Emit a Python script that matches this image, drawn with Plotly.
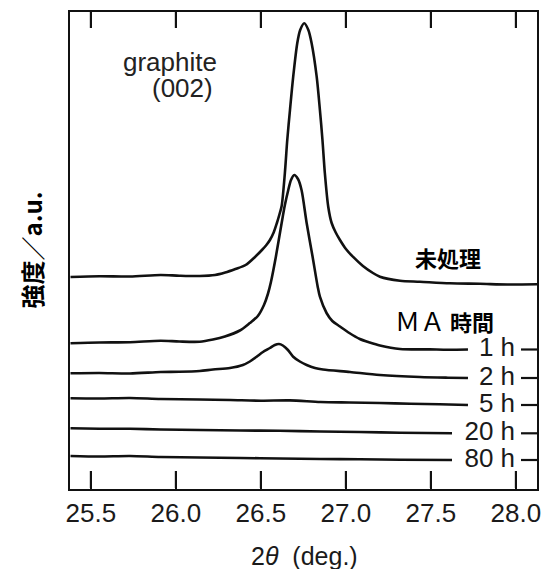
import plotly.graph_objects as go

# 2theta (deg.) and intensity (a.u., stacked)
x_raw = [25.38, 25.55, 25.73, 25.91, 26.02, 26.14, 26.23, 26.29, 26.35, 26.41, 26.465, 26.506,
         26.53, 26.553, 26.575, 26.594, 26.608, 26.622, 26.641, 26.655, 26.671, 26.690, 26.714,
         26.731, 26.755, 26.779, 26.798, 26.828, 26.847, 26.862, 26.876, 26.896, 26.916, 26.94,
         26.965, 27.0, 27.041, 27.10, 27.159, 27.200, 27.318, 27.435, 27.612, 27.788, 27.95, 28.124]
y_raw = [212, 212.8, 212.5, 214, 213.3, 213, 214, 216.5, 220, 224, 232, 239,
         243.5, 249, 256.5, 266, 274, 283, 316, 349, 379, 412.3, 446,
         459, 465.7, 459, 446, 412.3, 379, 349, 316, 282.3, 266, 256.5,
         249, 240, 232.3, 223, 216, 212.3, 208.3, 207.3, 205.7, 205.2, 204.5, 204.7]

x_1h = [25.38, 25.55, 25.73, 25.91, 26.02, 26.14, 26.218, 26.288, 26.376, 26.435, 26.482, 26.518,
        26.541, 26.559, 26.588, 26.622, 26.641, 26.661, 26.677, 26.696, 26.718, 26.739, 26.769,
        26.804, 26.834, 26.847, 26.886, 26.92, 26.965, 27.02, 27.082, 27.140, 27.200, 27.318,
        27.494, 27.60, 27.718]
y_1h = [145.7, 146.5, 146.8, 148.3, 147.5, 147.3, 149.5, 152.5, 158.5, 166, 173, 184,
        195, 207, 232.3, 266, 284, 299, 309, 314, 310, 299, 266,
        232.3, 202.3, 192.3, 176, 168, 162.5, 156, 150, 146.5, 143.5, 140,
        139.6, 139.3, 139.5]

x_2h = [25.38, 25.55, 25.73, 25.91, 26.02, 26.14, 26.218, 26.318, 26.394, 26.435, 26.475, 26.512,
        26.553, 26.582, 26.606, 26.629, 26.659, 26.690, 26.729, 26.769, 26.818, 26.865, 27.024,
        27.200, 27.435, 27.60, 27.718]
y_2h = [115.7, 116, 115.5, 117, 117.2, 118, 119.5, 121, 124, 127.5, 132.3, 137,
        141, 144, 145, 143.5, 139, 132.3, 127.5, 124, 121, 119.5, 117,
        114, 112, 111.3, 111]

x_5h = [25.38, 25.55, 25.73, 25.91, 26.14, 26.32, 26.50, 26.67, 26.85, 27.02, 27.20, 27.38, 27.55, 27.718]
y_5h = [90.7, 90.5, 91, 90, 89.5, 89, 88.3, 88.6, 87, 86.5, 86, 85.3, 84.7, 84]

x_20h = [25.38, 25.55, 25.73, 25.91, 26.14, 26.38, 26.61, 26.85, 27.08, 27.32, 27.624]
y_20h = [60.7, 60.3, 60.2, 59.5, 59, 58.5, 58.2, 57.5, 57, 56.3, 55.7]

x_80h = [25.38, 25.55, 25.73, 25.91, 26.14, 26.38, 26.61, 26.85, 27.08, 27.32, 27.624]
y_80h = [33, 32.5, 33, 32, 31.5, 31, 30.5, 30, 29.7, 29.2, 29]

ma_labels = ["1 h", "2 h", "5 h", "20 h", "80 h"]
ma_label_y = [139.5, 111, 84, 55.7, 29]

x_ticks = [25.5, 26.0, 26.5, 27.0, 27.5, 28.0]
x_ticktext = ["25.5", "26.0", "26.5", "27.0", "27.5", "28.0"]

X_RANGE = [25.377, 28.124]
Y_RANGE = [0, 477]
RIGHT_TICK = 0.094      # length of the right-side marks (x units)
BOTTOM_TICK = 18        # inside tick length at the bottom (y units)
TOP_TICK = 16           # inside tick length at the top (y units)

LINE = "#111111"
fig = go.Figure()
for xs, ys in [(x_raw, y_raw), (x_1h, y_1h), (x_2h, y_2h), (x_5h, y_5h), (x_20h, y_20h), (x_80h, y_80h)]:
    fig.add_trace(go.Scatter(x=xs, y=ys, mode="lines",
                             line=dict(color=LINE, width=2.6, shape="spline", smoothing=0.8),
                             showlegend=False, hoverinfo="skip"))

# inside tick marks at the bottom of the frame: one short trace per tick
for t in x_ticks:
    fig.add_trace(go.Scatter(x=[t, t], y=[Y_RANGE[0] + 1, Y_RANGE[0] + BOTTOM_TICK], mode="lines",
                             line=dict(color=LINE, width=2.2),
                             showlegend=False, hoverinfo="skip"))

# inside tick marks at the top of the frame
tx, ty = [], []
for t in x_ticks:
    tx += [t, t, None]
    ty += [Y_RANGE[1] - TOP_TICK, Y_RANGE[1], None]
fig.add_trace(go.Scatter(x=tx, y=ty, mode="lines", line=dict(color=LINE, width=2.2),
                         showlegend=False, hoverinfo="skip"))

# small marks at the right frame for each MA-time label
rx, ry = [], []
for v in ma_label_y:
    rx += [X_RANGE[1] - RIGHT_TICK, X_RANGE[1], None]
    ry += [v, v, None]
fig.add_trace(go.Scatter(x=rx, y=ry, mode="lines", line=dict(color=LINE, width=2.2),
                         showlegend=False, hoverinfo="skip"))

fig.add_trace(go.Scatter(x=[27.995] * len(ma_labels), y=ma_label_y, mode="text",
                         text=ma_labels, textposition="middle left",
                         textfont=dict(family="Liberation Sans, Arial", size=26, color="#1a1a1a"),
                         showlegend=False, hoverinfo="skip"))

fig.update_layout(
    width=553, height=569,
    margin=dict(l=70, r=16, t=12, b=80, autoexpand=False),
    plot_bgcolor="white", paper_bgcolor="white",
    xaxis=dict(range=X_RANGE, tickvals=x_ticks, ticktext=x_ticktext,
               ticks="inside", ticklen=BOTTOM_TICK, tickwidth=2, tickcolor=LINE,
               showline=True, linewidth=2, linecolor=LINE, mirror=True,
               showgrid=False, zeroline=False, automargin=False,
               tickfont=dict(family="Liberation Sans, Arial", size=26, color="#1a1a1a")),
    yaxis=dict(range=Y_RANGE, showticklabels=False, ticks="", showgrid=False, zeroline=False,
               showline=True, linewidth=2, linecolor=LINE, mirror=True, automargin=False),
)

fig.add_annotation(x=25.965, y=427, text="graphite", showarrow=False,
                   font=dict(family="Liberation Sans, Arial", size=26, color="#222"))
fig.add_annotation(x=26.038, y=401, text="(002)", showarrow=False,
                   font=dict(family="Liberation Sans, Arial", size=26, color="#222"))
fig.add_annotation(x=27.6, y=232, text="<b>未処理</b>", showarrow=False,
                   font=dict(family="Noto Sans CJK JP", size=22, color="#000"))
fig.add_annotation(x=27.58, y=169, showarrow=False,
                   text="<span style='font-size:25px'>ＭＡ</span> <b>時間</b>",
                   font=dict(family="Noto Sans CJK JP", size=22, color="#000"))
fig.add_annotation(xref="paper", yref="paper", x=-0.0835, y=0.50, xanchor="center",
                   yanchor="middle", text="<b>強度／a.u.</b>",
                   textangle=-90, showarrow=False,
                   font=dict(family="Noto Sans CJK JP", size=24, color="#000"))
fig.add_annotation(xref="paper", yref="paper", x=0.502, y=-0.14, xanchor="center",
                   yanchor="middle", text="2<i>θ</i>\u00a0\u00a0(deg.)", showarrow=False,
                   font=dict(family="Liberation Sans, Arial", size=25, color="#1a1a1a"))

fig.write_html("out.html", config={"displayModeBar": False},
               post_script="document.body.style.margin='0';document.body.style.padding='0';")
